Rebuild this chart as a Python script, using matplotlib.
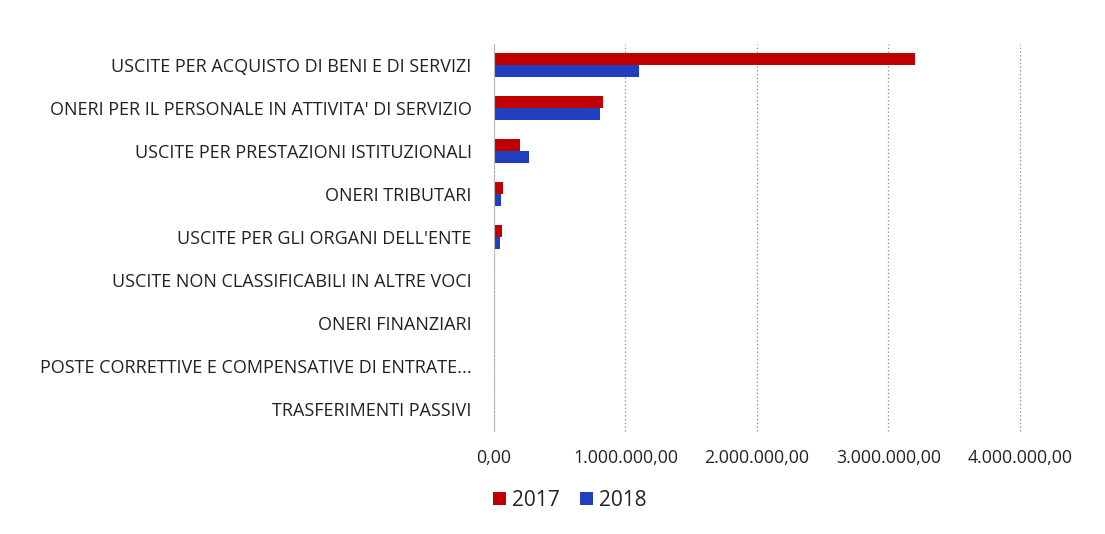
import matplotlib
matplotlib.use("Agg")
import matplotlib.pyplot as plt
import numpy as np
from matplotlib.ticker import FuncFormatter

categories = [
    "USCITE PER ACQUISTO DI BENI E DI SERVIZI",
    "ONERI PER IL PERSONALE IN ATTIVITA' DI SERVIZIO",
    "USCITE PER PRESTAZIONI ISTITUZIONALI",
    "ONERI TRIBUTARI",
    "USCITE PER GLI ORGANI DELL'ENTE",
    "USCITE NON CLASSIFICABILI IN ALTRE VOCI",
    "ONERI FINANZIARI",
    "POSTE CORRETTIVE E COMPENSATIVE DI ENTRATE...",
    "TRASFERIMENTI PASSIVI",
]
values_2017 = [3200000, 830000, 200000, 68000, 60000, 0, 0, 0, 0]
values_2018 = [1100000, 810000, 265000, 50000, 45000, 0, 0, 0, 0]
series_labels = ["2017", "2018"]
xticks = [0, 1000000, 2000000, 3000000, 4000000]

plt.rcParams['font.family'] = ['Open Sans', 'DejaVu Sans']

fig = plt.figure(figsize=(11.05, 5.34), dpi=100)
ax = fig.add_axes([0.447, 0.193, 0.476, 0.725])

y = np.arange(len(categories))
h = 0.28
ax.barh(y - h / 2, values_2017, height=h, color='#C00000', label=series_labels[0])
ax.barh(y + h / 2, values_2018, height=h, color='#1F3FBF', label=series_labels[1])

ax.set_ylim(len(categories) - 0.5, -0.5)
ax.set_xlim(0, 4000000)
ax.set_yticks(y)
ax.set_yticklabels(categories, fontsize=13, color='#222222')
ax.set_xticks(xticks)

def fmt(v, pos):
    s = f"{int(v):,}".replace(",", ".")
    return s + ",00"

ax.xaxis.set_major_formatter(FuncFormatter(fmt))
ax.tick_params(axis='x', labelsize=12.8, colors='#222222', length=0, pad=13)
ax.tick_params(axis='y', length=0, pad=16)

for s in ['top', 'right', 'bottom']:
    ax.spines[s].set_visible(False)
ax.spines['left'].set_color('#BBBBBB')
ax.spines['left'].set_linewidth(0.8)

ax.grid(axis='x', color='#888888', linestyle=(0, (1, 2)), linewidth=0.9)
ax.set_axisbelow(True)
for gl in ax.get_xgridlines():
    gl.set_clip_on(False)

leg = fig.legend(loc='center left', bbox_to_anchor=(0.433, 0.063), ncol=2, frameon=False,
                 fontsize=15, handlelength=0.6, handleheight=0.6, handletextpad=0.3,
                 columnspacing=1.0, borderpad=0.2)
for t in leg.get_texts():
    t.set_color('#222222')

fig.savefig("out.png", dpi=100, facecolor='white')
